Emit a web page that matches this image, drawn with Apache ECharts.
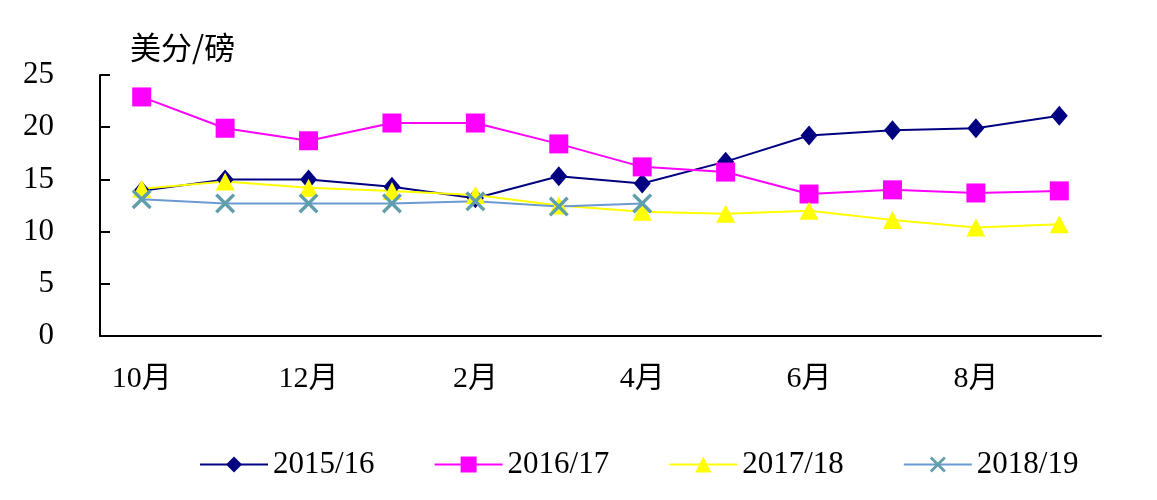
<!DOCTYPE html>
<html>
<head>
<meta charset="utf-8">
<script src="https://cdn.jsdelivr.net/npm/echarts@6/dist/echarts.min.js"></script>
<style>
  html, body { margin: 0; padding: 0; background: #fff; }
  #chart { width: 1157px; height: 500px; }
</style>
</head>
<body>
<div id="chart"></div>
<script>
const months = ['10月', '11月', '12月', '1月', '2月', '3月', '4月', '5月', '6月', '7月', '8月', '9月']
const s1516 = [13.9, 15.0, 15.0, 14.3, 13.2, 15.3, 14.6, 16.7, 19.2, 19.7, 19.9, 21.1]
const s1617 = [22.9, 19.9, 18.7, 20.4, 20.4, 18.4, 16.2, 15.7, 13.6, 14.0, 13.7, 13.9]
const s1718 = [14.1, 14.8, 14.2, 13.9, 13.5, 12.5, 11.9, 11.7, 12.0, 11.1, 10.4, 10.7]
const s1819 = [13.1, 12.7, 12.7, 12.7, 12.9, 12.4, 12.7, null, null, null, null, null]

const serif = "'Liberation Serif', 'Noto Sans CJK SC', serif"
const crossPath = 'path://M0,1.2L1.2,0L10,8.8L8.8,10Z M8.8,0L10,1.2L1.2,10L0,8.8Z'

const chart = echarts.init(document.getElementById('chart'))
chart.setOption({
  animation: false,
  backgroundColor: '#fff',
  grid: { left: 100, right: 56, top: 75, bottom: 164 },
  legend: {
    left: 194,
    top: 444,
    itemWidth: 68,
    itemHeight: 20,
    itemGap: 59,
    textStyle: { fontFamily: serif, fontSize: 31, color: '#000' },
    data: ['2015/16', '2016/17', '2017/18', '2018/19'],
  },
  xAxis: {
    type: 'category',
    data: months,
    boundaryGap: true,
    axisLine: { lineStyle: { color: '#000', width: 2 } },
    axisTick: { inside: true, length: 10, interval: 0, lineStyle: { color: '#000', width: 2 } },
    axisLabel: { interval: 1, margin: 28, fontFamily: serif, fontSize: 30, color: '#000' },
    splitLine: { show: false },
  },
  yAxis: {
    type: 'value',
    min: 0,
    max: 25,
    interval: 5,
    name: '美分/磅',
    nameLocation: 'end',
    nameGap: 12,
    nameTextStyle: { fontFamily: "'Noto Sans CJK SC', sans-serif", fontSize: 31, color: '#000', align: 'left', padding: [0, 0, 0, 30] },
    axisLine: { show: true, lineStyle: { color: '#000', width: 2 } },
    axisTick: { show: true, inside: true, length: 10, lineStyle: { color: '#000', width: 2 } },
    axisLabel: { margin: 46, fontFamily: serif, fontSize: 31, color: '#000' },
    splitLine: { show: false },
  },
  series: [
    {
      name: '2015/16',
      type: 'line',
      data: s1516,
      symbol: 'diamond',
      symbolSize: [17, 20],
      lineStyle: { color: '#000080', width: 2 },
      itemStyle: { color: '#000080' },
    },
    {
      name: '2016/17',
      type: 'line',
      data: s1617,
      symbol: 'rect',
      symbolSize: 19,
      lineStyle: { color: '#ff00ff', width: 2 },
      itemStyle: { color: '#ff00ff' },
    },
    {
      name: '2017/18',
      type: 'line',
      data: s1718,
      symbol: 'triangle',
      symbolSize: [19, 18],
      lineStyle: { color: '#ffff00', width: 2 },
      itemStyle: { color: '#ffff00' },
    },
    {
      name: '2018/19',
      type: 'line',
      data: s1819,
      symbol: crossPath,
      symbolSize: 20,
      lineStyle: { color: '#6a9bd0', width: 2 },
      itemStyle: { color: '#5f9eaa' },
    },
  ],
})
</script>
</body>
</html>
